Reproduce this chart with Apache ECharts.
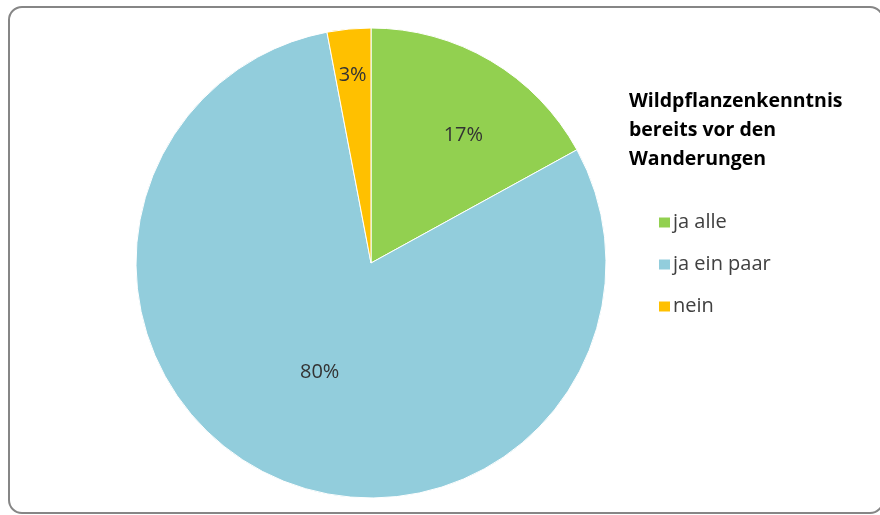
<!DOCTYPE html>
<html>
<head>
<meta charset="utf-8">
<script src="https://cdn.jsdelivr.net/npm/echarts@6/dist/echarts.min.js"></script>
<style>
  html, body { margin: 0; padding: 0; background: #ffffff; }
  #chart { width: 880px; height: 515px; }
</style>
</head>
<body>
<div id="chart"></div>
<script>
// Wildpflanzenkenntnis vor den Wanderungen (Anteile in %)
const categories = ['ja alle', 'ja ein paar', 'nein'];
const values = [17, 80, 3];
const colors = ['#92D050', '#92CDDC', '#FFC000'];
const titleText = 'Wildpflanzenkenntnis\nbereits vor den\nWanderungen';

// fine shift of each percentage label away from the default inner spot
const labelShift = [[31, -24], [0, 0], [-7, -68]];

const fontFamily = '"Open Sans", "DejaVu Sans", sans-serif';

const chart = echarts.init(document.getElementById('chart'), null, { renderer: 'canvas' });

chart.setOption({
  backgroundColor: '#ffffff',
  animation: false,
  graphic: [{
    type: 'rect',
    shape: { x: 9, y: 7, width: 874, height: 506, r: 13 },
    style: { fill: 'none', stroke: '#868686', lineWidth: 2 },
    silent: true,
    z: -1
  }],
  title: {
    text: titleText,
    left: 624,
    top: 82,
    textStyle: {
      fontFamily: fontFamily,
      fontWeight: 'bold',
      fontSize: 19.5,
      lineHeight: 29,
      color: '#000000'
    }
  },
  legend: {
    orient: 'vertical',
    left: 652,
    top: 203,
    itemWidth: 13,
    itemHeight: 12,
    itemGap: 13,
    icon: 'rect',
    data: categories,
    textStyle: { fontFamily: fontFamily, fontSize: 20, lineHeight: 29, color: '#404040', padding: [0, 0, 0, -3] }
  },
  series: [{
    type: 'pie',
    center: [371, 263],
    radius: 235,
    startAngle: 90,
    clockwise: true,
    silent: true,
    itemStyle: { borderColor: '#ffffff', borderWidth: 1 },
    label: {
      show: true,
      position: 'inner',
      formatter: '{c}%',
      fontFamily: fontFamily,
      fontSize: 20,
      color: '#333333'
    },
    labelLine: { show: false },
    labelLayout: function (p) {
      const s = labelShift[p.dataIndex];
      return { dx: s[0], dy: s[1] };
    },
    data: categories.map((name, i) => ({
      name: name,
      value: values[i],
      itemStyle: { color: colors[i] }
    }))
  }]
});
</script>
</body>
</html>
